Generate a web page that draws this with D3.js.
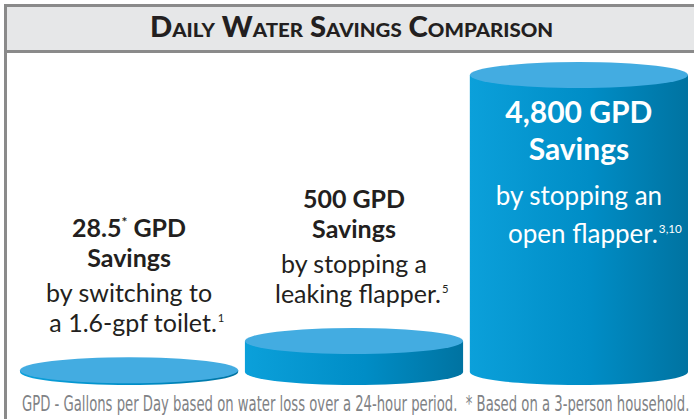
<!DOCTYPE html>
<html>
<head>
<meta charset="utf-8">
<script src="https://cdn.jsdelivr.net/npm/d3@7"></script>
<style>
  body { margin: 0; background: #fff; }
  svg { display: block; }
</style>
</head>
<body>
<svg id="chart" width="694" height="419"></svg>
<script>
// chart data
const ids = ['toilet', 'leak', 'open'];
const values = [28.5, 500, 4800];           // gallons per day
const headlines = ['28.5', '500', '4,800'];
const headlineMarks = ['*', '', ''];
const line3 = ['by switching to', 'by stopping a', 'by stopping an'];
const line4 = ['a 1.6-gpf toilet.', 'leaking flapper.', 'open flapper.'];
const notes = ['1', '5', '3,10'];
const title = 'Daily Water Savings Comparison';
const footnote = 'GPD - Gallons per Day based on water loss over a 24-hour period.  * Based on a 3-person household.';

const W = 694, H = 419;
const baseY = 372;   // centre of bottom ellipses
const ry = 13;
const fontMain = 'Lato, "Open Sans", sans-serif';

const svg = d3.select('#chart');

// fit a text element into a given width by squeezing it horizontally
function fitWidth(sel, x0, y0, width) {
    const w = sel.node().getComputedTextLength();
    sel.attr('x', 0).attr('y', 0)
        .attr('transform', `translate(${x0},${y0}) scale(${width / w},1)`);
}

// frame + header band
svg.append('rect')
    .attr('x', 7).attr('y', 7)
    .attr('width', W - 7).attr('height', 43)
    .attr('fill', '#e6e7e8');
svg.append('path')
    .attr('d', `M5.5,${H} V5.5 H${W}`)
    .attr('fill', 'none')
    .attr('stroke', '#8a8a8a')
    .attr('stroke-width', 3);
svg.append('line')
    .attr('x1', 4).attr('x2', W)
    .attr('y1', 51.5).attr('y2', 51.5)
    .attr('stroke', '#8a8a8a')
    .attr('stroke-width', 3);

const titleText = svg.append('text')
    .attr('font-family', fontMain)
    .attr('font-weight', 900)
    .attr('font-size', 28)
    .style('font-variant', 'small-caps')
    .attr('fill', '#231f20')
    .text(title);
fitWidth(titleText, 150, 37, 410);

// scales
const x = d3.scaleBand()
    .domain(ids)
    .range([20, 688])
    .paddingInner(0.03);

const h = d3.scaleLinear()
    .domain([0, 4800])
    .range([0, 297]);

const defs = svg.append('defs');
const grad = defs.append('linearGradient')
    .attr('id', 'body-grad')
    .attr('x1', '0%').attr('x2', '100%')
    .attr('y1', '0%').attr('y2', '0%');
grad.append('stop').attr('offset', '0%').attr('stop-color', '#0ba0da');
grad.append('stop').attr('offset', '55%').attr('stop-color', '#008dc6');
grad.append('stop').attr('offset', '100%').attr('stop-color', '#0073a1');

const cyl = svg.selectAll('g.cyl')
    .data(ids.map((id, i) => ({id, value: values[i], i})))
    .join('g')
    .attr('class', 'cyl');

cyl.append('path')
    .attr('d', d => {
        const x0 = x(d.id), x1 = x(d.id) + x.bandwidth();
        const rx = x.bandwidth() / 2;
        const top = baseY - h(d.value);
        return `M${x0},${top} V${baseY} A${rx},${ry} 0 0 0 ${x1},${baseY} V${top} Z`;
    })
    .attr('fill', 'url(#body-grad)');

cyl.append('ellipse')
    .attr('cx', d => x(d.id) + x.bandwidth() / 2)
    .attr('cy', d => baseY - h(d.value))
    .attr('rx', x.bandwidth() / 2)
    .attr('ry', ry)
    .attr('fill', '#43ace1');

// labels
const outsideOffsets = [0, 30, 65, 95];
const insideOffsets = [0, 37, 82, 120];

cyl.each(function(d) {
    const g = d3.select(this);
    const cx = x(d.id) + x.bandwidth() / 2;
    const inside = d.value > 2000;
    const topEdge = baseY - h(d.value) - ry;
    const y0 = inside ? 123 : topEdge - 120;
    const off = inside ? insideOffsets : outsideOffsets;
    const color = inside ? '#ffffff' : '#231f20';
    const boldSize = inside ? 30 : 25;
    const regSize = inside ? 26 : 25;

    const t1 = g.append('text')
        .attr('x', cx).attr('y', y0 + off[0])
        .attr('text-anchor', 'middle')
        .attr('font-family', fontMain)
        .attr('font-weight', 700)
        .attr('font-size', boldSize)
        .attr('fill', color);
    t1.append('tspan').text(headlines[d.i]);
    if (headlineMarks[d.i]) {
        t1.append('tspan').attr('dy', -10).attr('font-size', boldSize * 0.55).text(headlineMarks[d.i]);
        t1.append('tspan').attr('dy', 10).text(' GPD');
    } else {
        t1.append('tspan').text(' GPD');
    }

    g.append('text')
        .attr('x', cx).attr('y', y0 + off[1])
        .attr('text-anchor', 'middle')
        .attr('font-family', fontMain)
        .attr('font-weight', 700)
        .attr('font-size', boldSize)
        .attr('fill', color)
        .text('Savings');

    g.append('text')
        .attr('x', cx).attr('y', y0 + off[2])
        .attr('text-anchor', 'middle')
        .attr('font-family', fontMain)
        .attr('font-weight', 400)
        .attr('font-size', regSize)
        .attr('fill', color)
        .text(line3[d.i]);

    const t4 = g.append('text')
        .attr('y', y0 + off[3])
        .attr('font-family', fontMain)
        .attr('font-weight', 400)
        .attr('font-size', regSize)
        .attr('fill', color);
    t4.append('tspan').text(line4[d.i]);
    const w = t4.node().getComputedTextLength();
    t4.attr('x', cx - w / 2 + 4);
    t4.append('tspan')
        .attr('dy', -10)
        .attr('dx', 1)
        .attr('font-size', regSize * 0.45)
        .text(notes[d.i]);
});

// footnote
const foot = svg.append('text')
    .attr('font-family', '"Liberation Sans Narrow", "DejaVu Sans Condensed", sans-serif')
    .attr('font-size', 22)
    .attr('fill', '#808285')
    .style('white-space', 'pre')
    .text(footnote);
fitWidth(foot, 22, 411, 668);
</script>
</body>
</html>
